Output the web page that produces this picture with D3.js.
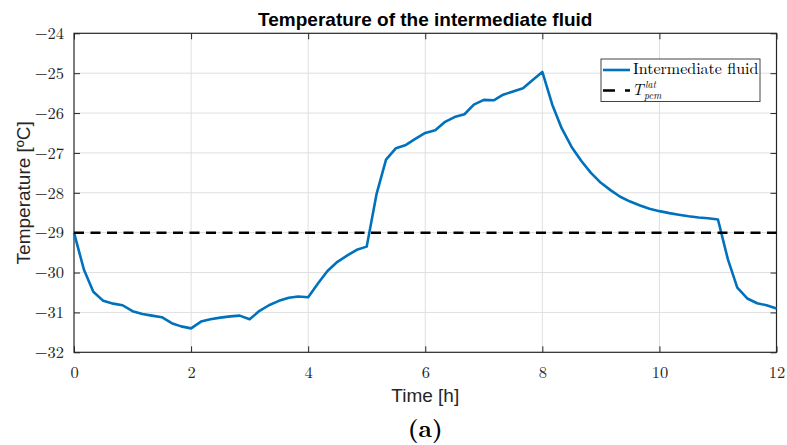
<!DOCTYPE html>
<html lang="en">
<head>
    <meta charset="UTF-8">
    <title>Temperature of the intermediate fluid</title>
    <script src="https://d3js.org/d3.v7.min.js"></script>
    <style>
        body { margin: 0; background: #fff; }
    </style>
</head>
<body>
<svg width="787" height="445"></svg>

<script>
    // time [h], 10 min steps
    const time = [0, 0.17, 0.33, 0.5, 0.67, 0.83, 1, 1.17, 1.33, 1.5, 1.67, 1.83,
        2, 2.17, 2.33, 2.5, 2.67, 2.83, 3, 3.17, 3.33, 3.5, 3.67, 3.83,
        4, 4.17, 4.33, 4.5, 4.67, 4.83, 5, 5.17, 5.33, 5.5, 5.67, 5.83,
        6, 6.17, 6.33, 6.5, 6.67, 6.83, 7, 7.17, 7.33, 7.5, 7.67, 7.83,
        8, 8.17, 8.33, 8.5, 8.67, 8.83, 9, 9.17, 9.33, 9.5, 9.67, 9.83,
        10, 10.17, 10.33, 10.5, 10.67, 10.83, 11, 11.17, 11.33, 11.5, 11.67, 11.83, 12];
    const fluid = [-29.00, -29.93, -30.48, -30.71, -30.78, -30.82, -30.97, -31.04, -31.08, -31.12, -31.27, -31.35,
        -31.40, -31.23, -31.17, -31.13, -31.10, -31.08, -31.17, -30.96, -30.82, -30.71, -30.63, -30.60,
        -30.62, -30.27, -29.96, -29.73, -29.57, -29.43, -29.35, -28.02, -27.17, -26.88, -26.80, -26.65,
        -26.50, -26.43, -26.23, -26.10, -26.03, -25.79, -25.67, -25.68, -25.54, -25.46, -25.38, -25.18,
        -24.97, -25.79, -26.38, -26.85, -27.21, -27.50, -27.75, -27.94, -28.10, -28.22, -28.32, -28.40,
        -28.46, -28.51, -28.55, -28.59, -28.62, -28.64, -28.67, -29.67, -30.38, -30.65, -30.77, -30.82, -30.90];
    const t_pcm = -29;
    const xTicks = [0, 2, 4, 6, 8, 10, 12];
    const yTicks = [-32, -31, -30, -29, -28, -27, -26, -25, -24];

    const svg = d3.select("svg");
    const pLeft = 74, pRight = 776.5, pTop = 33.3, pBottom = 352.3;
    const axisColor = "#262626";
    const serif = "'Latin Modern Roman', 'CMU Serif', 'Liberation Serif', serif";
    const sans = "'Liberation Sans', Helvetica, Arial, sans-serif";

    const x = d3.scaleLinear().domain([0, 12]).range([pLeft, pRight]);
    const y = d3.scaleLinear().domain([-32, -24]).range([pBottom, pTop]);

    // grid
    svg.append("g")
        .selectAll("line")
        .data(xTicks.slice(1, -1))
        .enter().append("line")
        .attr("x1", d => x(d)).attr("x2", d => x(d))
        .attr("y1", pTop).attr("y2", pBottom)
        .attr("stroke", "#dfdfdf").attr("stroke-width", 1);
    svg.append("g")
        .selectAll("line")
        .data(yTicks.slice(1, -1))
        .enter().append("line")
        .attr("x1", pLeft).attr("x2", pRight)
        .attr("y1", d => y(d)).attr("y2", d => y(d))
        .attr("stroke", "#dfdfdf").attr("stroke-width", 1);

    // axes, inward ticks on all four sides
    const fmt = d => d < 0 ? "\u2212" + Math.abs(d) : String(d);
    const tickLen = 6;
    const styleAxis = g => {
        g.select(".domain").remove();
        g.selectAll(".tick line").attr("stroke", axisColor).attr("stroke-width", 1);
        g.selectAll(".tick text").attr("fill", axisColor)
            .attr("font-family", serif).attr("font-size", 16.5);
    };
    svg.append("g").attr("transform", `translate(0,${pBottom})`)
        .call(d3.axisBottom(x).tickValues(xTicks).tickSize(-tickLen).tickPadding(14).tickFormat(fmt))
        .call(styleAxis);
    svg.append("g").attr("transform", `translate(0,${pTop})`)
        .call(d3.axisTop(x).tickValues(xTicks).tickSize(-tickLen).tickFormat(""))
        .call(styleAxis);
    svg.append("g").attr("transform", `translate(${pLeft},0)`)
        .call(d3.axisLeft(y).tickValues(yTicks).tickSize(-tickLen).tickPadding(10).tickFormat(fmt))
        .call(styleAxis);
    svg.append("g").attr("transform", `translate(${pRight},0)`)
        .call(d3.axisRight(y).tickValues(yTicks).tickSize(-tickLen).tickFormat(""))
        .call(styleAxis);

    svg.append("rect")
        .attr("x", pLeft).attr("y", pTop)
        .attr("width", pRight - pLeft).attr("height", pBottom - pTop)
        .attr("fill", "none").attr("stroke", axisColor).attr("stroke-width", 1.2);

    // series
    const line = d3.line().x(d => x(d[0])).y(d => y(d[1]));
    svg.append("path")
        .datum(time.map((t, i) => [t, fluid[i]]))
        .attr("d", line)
        .attr("fill", "none")
        .attr("stroke", "#0072BD")
        .attr("stroke-width", 2.6)
        .attr("stroke-linejoin", "round");

    svg.append("line")
        .attr("x1", x(0)).attr("x2", x(12))
        .attr("y1", y(t_pcm)).attr("y2", y(t_pcm))
        .attr("stroke", "black")
        .attr("stroke-width", 2.6)
        .attr("stroke-dasharray", "10,6.5");

    // labels
    svg.append("text")
        .attr("x", (pLeft + pRight) / 2).attr("y", 26)
        .attr("text-anchor", "middle")
        .attr("font-family", sans).attr("font-weight", "bold").attr("font-size", 19)
        .text("Temperature of the intermediate fluid");
    svg.append("text")
        .attr("x", (pLeft + pRight) / 2).attr("y", 402)
        .attr("text-anchor", "middle")
        .attr("font-family", sans).attr("font-size", 19).attr("fill", axisColor)
        .text("Time [h]");
    svg.append("text")
        .attr("transform", `translate(30,${(pTop + pBottom) / 2}) rotate(-90)`)
        .attr("text-anchor", "middle")
        .attr("font-family", sans).attr("font-size", 19).attr("fill", axisColor)
        .text("Temperature [ºC]");
    svg.append("text")
        .attr("x", (pLeft + pRight) / 2).attr("y", 437)
        .attr("text-anchor", "middle")
        .attr("font-family", serif).attr("font-weight", "bold").attr("font-size", 24)
        .text("(a)");

    // legend
    const lg = svg.append("g");
    lg.append("rect")
        .attr("x", 601).attr("y", 59).attr("width", 159).attr("height", 42.5)
        .attr("fill", "white").attr("stroke", "#444").attr("stroke-width", 1);
    lg.append("line")
        .attr("x1", 603).attr("x2", 630).attr("y1", 70).attr("y2", 70)
        .attr("stroke", "#0072BD").attr("stroke-width", 2.6);
    lg.append("text")
        .attr("x", 633).attr("y", 73.5)
        .attr("font-family", serif).attr("font-size", 16)
        .text("Intermediate fluid");
    lg.append("line")
        .attr("x1", 603).attr("x2", 630).attr("y1", 90.5).attr("y2", 90.5)
        .attr("stroke", "black").attr("stroke-width", 2.6)
        .attr("stroke-dasharray", "12,10");
    lg.append("text")
        .attr("x", 632).attr("y", 95)
        .attr("font-family", serif).attr("font-style", "italic").attr("font-size", 16)
        .text("T");
    lg.append("text")
        .attr("x", 645).attr("y", 87.5)
        .attr("font-family", serif).attr("font-style", "italic").attr("font-size", 10)
        .text("lat");
    lg.append("text")
        .attr("x", 644).attr("y", 99)
        .attr("font-family", serif).attr("font-style", "italic").attr("font-size", 10)
        .text("pcm");
</script>
</body>
</html>
